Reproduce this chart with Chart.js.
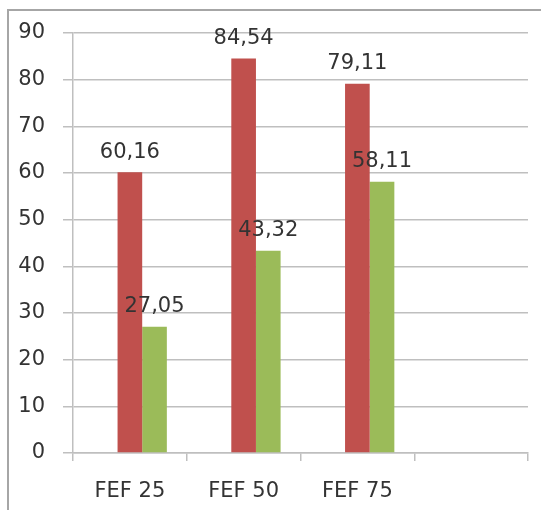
<!DOCTYPE html>
<html>
<head>
<meta charset="utf-8">
<script src="https://cdn.jsdelivr.net/npm/chart.js@4"></script>
<style>
  html, body { margin: 0; padding: 0; background: #fff; }
  #wrap { width: 541px; height: 510px; position: relative; }
</style>
</head>
<body>
<div id="wrap"><canvas id="chart"></canvas></div>
<script>
const categories = ['FEF 25', 'FEF 50', 'FEF 75', '']
const redValues = [60.16, 84.54, 79.11, null]
const greenValues = [27.05, 43.32, 58.11, null]
const spacerValues = [null, null, null, null]
const yTicks = [0, 10, 20, 30, 40, 50, 60, 70, 80, 90]

const fmt = v => v.toFixed(2).replace('.', ',')

const frame = {
  id: 'frame',
  beforeDraw(chart) {
    const c = chart.ctx
    c.save()
    c.strokeStyle = '#a6a6a6'
    c.lineWidth = 2
    c.strokeRect(8, 10, 700, 700)
    c.restore()
  }
}

const valueLabels = {
  id: 'valueLabels',
  afterDatasetsDraw(chart) {
    const c = chart.ctx
    c.save()
    c.font = '21px "DejaVu Sans"'
    c.fillStyle = '#333'
    c.textAlign = 'center'
    c.textBaseline = 'middle'
    chart.data.datasets.forEach((ds, i) => {
      if (!ds.showLabels) return
      chart.getDatasetMeta(i).data.forEach((bar, j) => {
        const v = ds.data[j]
        if (v == null) return
        c.fillText(fmt(v), bar.x, bar.y - 20)
      })
    })
    c.restore()
  }
}

new Chart(document.getElementById('chart'), {
  type: 'bar',
  data: {
    labels: categories,
    datasets: [
      { label: '', data: spacerValues, backgroundColor: 'rgba(0,0,0,0)' },
      { label: 'A', data: redValues, backgroundColor: '#c0504d', showLabels: true },
      { label: 'B', data: greenValues, backgroundColor: '#9bbb59', showLabels: true }
    ]
  },
  plugins: [frame, valueLabels],
  options: {
    responsive: true,
    maintainAspectRatio: false,
    animation: false,
    events: [],
    categoryPercentage: 0.65,
    barPercentage: 1.0,
    layout: { padding: { top: 33, right: 13, left: 0, bottom: 0 } },
    plugins: { legend: { display: false }, tooltip: { enabled: false } },
    scales: {
      x: {
        afterFit: s => { s.height = 57 },
        grid: { drawOnChartArea: false, drawTicks: true, tickLength: 8, color: '#bfbfbf', lineWidth: 1.5 },
        border: { color: '#bfbfbf', width: 1.5 },
        ticks: { color: '#333', font: { family: 'DejaVu Sans', size: 21 }, padding: 18 }
      },
      y: {
        min: 0,
        max: 90,
        afterFit: s => { s.width = 73 },
        afterBuildTicks: s => { s.ticks = yTicks.map(v => ({ value: v })) },
        grid: { color: '#bfbfbf', lineWidth: 1.5, tickLength: 10 },
        border: { color: '#bfbfbf', width: 1.5 },
        ticks: { color: '#333', font: { family: 'DejaVu Sans', size: 21 }, padding: 18 }
      }
    }
  }
})
</script>
</body>
</html>
